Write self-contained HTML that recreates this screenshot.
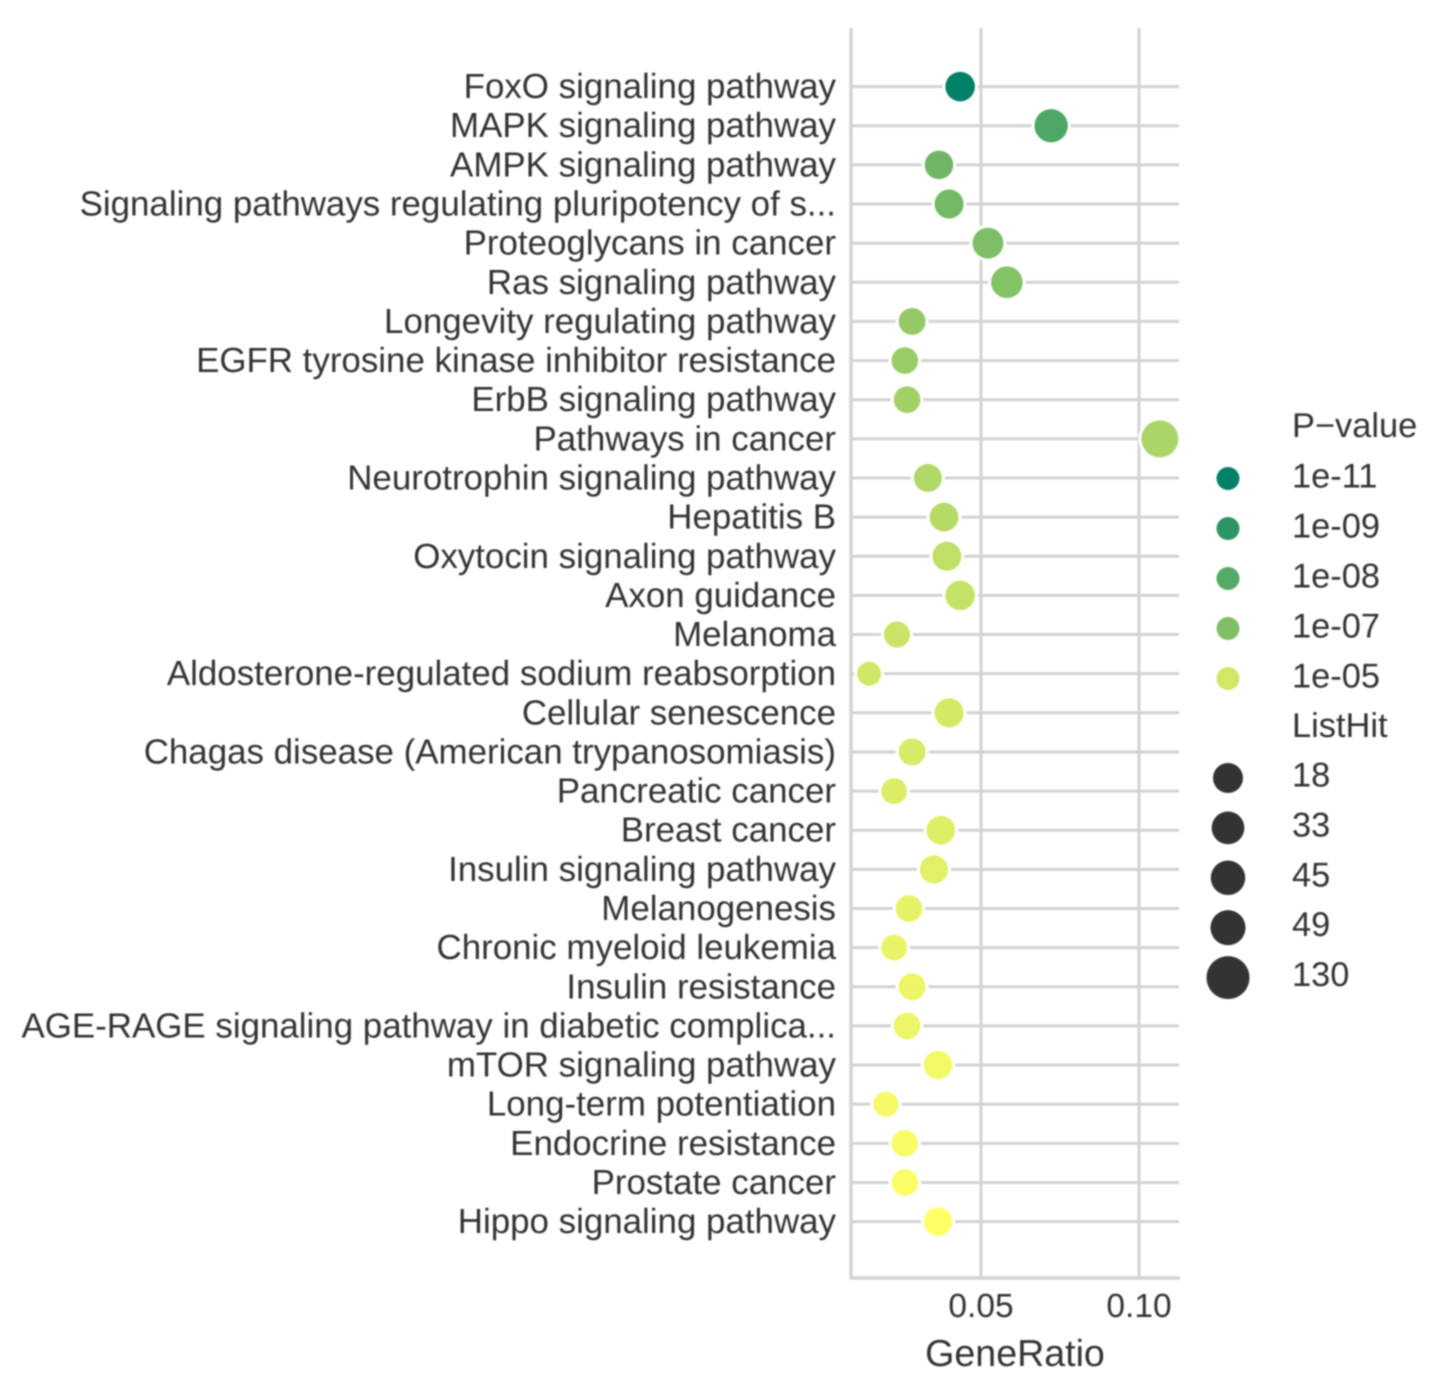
<!DOCTYPE html>
<html lang="en">
<head>
<meta charset="utf-8">
<title>Pathway enrichment dot plot</title>
<style>
  html, body { margin: 0; padding: 0; background: #ffffff; }
  body { width: 1441px; height: 1387px; overflow: hidden; }
  svg { display: block; font-family: "Liberation Sans", Arial, sans-serif; text-rendering: geometricPrecision; }
  #soft { filter: blur(0.9px); }
</style>
</head>
<body>
<svg id="chart" xmlns="http://www.w3.org/2000/svg" width="1441" height="1387" viewBox="0 0 1441 1387">
  <rect x="0" y="0" width="1441" height="1387" fill="#ffffff"></rect>
  <g id="soft">
    <g id="grid"></g>
    <g id="spines"></g>
    <g id="ylabels"></g>
    <g id="dots"></g>
    <g id="xticks"></g>
    <g id="legend"></g>
  </g>
</svg>
<script>
const categories = [
  "FoxO signaling pathway", "MAPK signaling pathway", "AMPK signaling pathway",
  "Signaling pathways regulating pluripotency of s...", "Proteoglycans in cancer",
  "Ras signaling pathway", "Longevity regulating pathway",
  "EGFR tyrosine kinase inhibitor resistance", "ErbB signaling pathway",
  "Pathways in cancer", "Neurotrophin signaling pathway", "Hepatitis B",
  "Oxytocin signaling pathway", "Axon guidance", "Melanoma",
  "Aldosterone-regulated sodium reabsorption", "Cellular senescence",
  "Chagas disease (American trypanosomiasis)", "Pancreatic cancer", "Breast cancer",
  "Insulin signaling pathway", "Melanogenesis", "Chronic myeloid leukemia",
  "Insulin resistance", "AGE-RAGE signaling pathway in diabetic complica...",
  "mTOR signaling pathway", "Long-term potentiation", "Endocrine resistance",
  "Prostate cancer", "Hippo signaling pathway"
];
const geneRatio = [
  0.0434, 0.0722, 0.0367, 0.0399, 0.0522, 0.0582, 0.0282, 0.0259, 0.0266, 0.1066,
  0.0332, 0.0383, 0.0392, 0.0434, 0.0234, 0.0146, 0.0399, 0.0282, 0.0225, 0.0373,
  0.0351, 0.0272, 0.0225, 0.0282, 0.0266, 0.0364, 0.0199, 0.0259, 0.0259, 0.0364
];
const listHit = [
  53, 88, 45, 49, 64, 71, 34, 32, 32, 130,
  41, 47, 48, 53, 29, 18, 49, 34, 27, 46,
  43, 33, 27, 34, 32, 44, 24, 32, 32, 44
];
const negLogP = [
  11.0, 8.12, 7.41, 7.29, 7.06, 6.88, 6.5, 6.38, 6.19, 5.94,
  5.81, 5.69, 5.44, 5.31, 5.19, 5.06, 4.94, 4.88, 4.76, 4.69,
  4.63, 4.51, 4.45, 4.39, 4.33, 4.2, 4.14, 4.08, 3.99, 3.9
];
const xTickValues = [0.05, 0.10];
const xTickLabels = ["0.05", "0.10"];
const xAxisTitle = "GeneRatio";
const pLegendTitle = "P\u2212value";
const pLegendLabels = ["1e-11", "1e-09", "1e-08", "1e-07", "1e-05"];
const pLegendValues = [11, 9, 8, 7, 5];
const sizeLegendTitle = "ListHit";
const sizeLegendLabels = ["18", "33", "45", "49", "130"];
const sizeLegendValues = [18, 33, 45, 49, 130];

const SVG_NS = "http://www.w3.org/2000/svg";
const TEXT_COLOR = "#333333";
const GRID_COLOR = "#d3d3d3";
const PLOT = { left: 851, right: 1180, top: 28, bottom: 1278 };

function xScale(v) { return 981 + (v - 0.05) * 3160; }
function yScale(i) { return 86.6 + i * (1221.6 - 86.6) / (categories.length - 1); }
function plotDiameter(h) { return 16.3 + 1.82 * Math.sqrt(h); }
function legendDiameter(h) { return 22.3 + 1.82 * Math.sqrt(h); }

function colorPosition(logP) {
  const from = [11, 9, 8, 7, 5, 3.9];
  const to = [0, 0.17, 0.33, 0.5, 0.82, 1];
  if (logP >= from[0]) return 0;
  for (let k = 1; k < from.length; k++) {
    if (logP >= from[k]) {
      return to[k - 1] + (from[k - 1] - logP) / (from[k - 1] - from[k]) * (to[k] - to[k - 1]);
    }
  }
  return 1;
}
function colorScale(logP) {
  const t = colorPosition(logP);
  const r = Math.round(255 * t);
  const g = Math.round(255 * (0.5 + t / 2));
  const b = Math.round(255 * 0.4);
  return "rgb(" + r + "," + g + "," + b + ")";
}
function make(tag, parentId, attrs, text) {
  const el = document.createElementNS(SVG_NS, tag);
  for (const key in attrs) el.setAttribute(key, attrs[key]);
  if (text !== undefined) el.textContent = text;
  document.getElementById(parentId).appendChild(el);
  return el;
}

/* horizontal grid lines and y labels */
categories.forEach(function (name, i) {
  const y = yScale(i);
  const line = make("line", "grid", { x1: PLOT.left, x2: PLOT.right - 1, y1: y, y2: y, stroke: GRID_COLOR, "stroke-width": 3 });
  
  
  const label = make("text", "ylabels", { x: 836, y: y + 11.5, "text-anchor": "end", "font-size": 34.9, fill: TEXT_COLOR }, name);
  
  
});

/* vertical grid lines and x ticks */
xTickValues.forEach(function (v, i) {
  const x = xScale(v);
  const line = make("line", "grid", { x1: x, x2: x, y1: PLOT.top, y2: PLOT.bottom, stroke: GRID_COLOR, "stroke-width": 3 });
  
  
  const tick = make("text", "xticks", { x: x, y: 1317, "text-anchor": "middle", "font-size": 33.5, fill: TEXT_COLOR }, xTickLabels[i]);
  
  
});

const xTitle = make("text", "xticks", { x: 1015, y: 1366, "text-anchor": "middle", "font-size": 37.6, fill: TEXT_COLOR }, xAxisTitle);



/* spines */
const leftSpine = make("line", "spines", { x1: PLOT.left, x2: PLOT.left, y1: PLOT.top, y2: PLOT.bottom + 1.5, stroke: GRID_COLOR, "stroke-width": 3.5 });


const bottomSpine = make("line", "spines", { x1: PLOT.left, x2: PLOT.right, y1: PLOT.bottom, y2: PLOT.bottom, stroke: GRID_COLOR, "stroke-width": 3.5 });



/* data points */
geneRatio.forEach(function (v, i) {
  const dot = make("circle", "dots", {
    cx: xScale(v), cy: yScale(i), r: plotDiameter(listHit[i]) / 2,
    fill: colorScale(negLogP[i]), stroke: "#ffffff", "stroke-width": 6, "paint-order": "stroke"
  });
  
  
});

/* legend */
const pTitle = make("text", "legend", { x: 1292, y: 437, "font-size": 34.4, fill: TEXT_COLOR }, pLegendTitle);


pLegendLabels.forEach(function (label, i) {
  const y = 478.5 + i * 50;
  const dot = make("circle", "legend", { cx: 1228, cy: y, r: 11.5, fill: colorScale(pLegendValues[i]) });
  
  
  const text = make("text", "legend", { x: 1292, y: y + 9, "font-size": 34.4, fill: TEXT_COLOR }, label);
  
  
});
const sTitle = make("text", "legend", { x: 1292, y: 737, "font-size": 34.4, fill: TEXT_COLOR }, sizeLegendTitle);


sizeLegendLabels.forEach(function (label, i) {
  const y = 778 + i * 49.9;
  const dot = make("circle", "legend", { cx: 1228, cy: y, r: legendDiameter(sizeLegendValues[i]) / 2, fill: "#333333" });
  
  
  const text = make("text", "legend", { x: 1292, y: y + 8.5, "font-size": 34.4, fill: TEXT_COLOR }, label);
  
  
});
</script>
</body>
</html>
